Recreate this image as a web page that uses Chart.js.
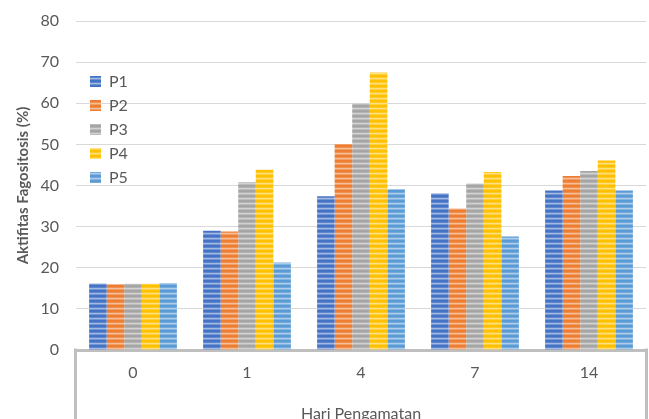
<!DOCTYPE html>
<html>
<head>
<meta charset="utf-8">
<script src="https://cdn.jsdelivr.net/npm/chart.js@4.4.1/dist/chart.umd.min.js"></script>
<style>
  html, body { margin: 0; padding: 0; background: #ffffff; overflow: hidden; }
  #wrap { width: 649px; height: 430px; position: relative; }
</style>
</head>
<body>
<div id="wrap"><canvas id="c"></canvas></div>
<script>
// Observation days and phagocytic activity (%) per group
const days = ['0', '1', '4', '7', '14'];
const seriesNames = ['P1', 'P2', 'P3', 'P4', 'P5'];
const p1 = [16.2, 29.0, 37.4, 38.1, 38.8];
const p2 = [16.0, 28.8, 50.1, 34.4, 42.3];
const p3 = [16.1, 40.8, 60.0, 40.5, 43.5];
const p4 = [16.1, 43.8, 67.5, 43.3, 46.1];
const p5 = [16.3, 21.3, 39.1, 27.6, 38.8];
const yTicks = [0, 10, 20, 30, 40, 50, 60, 70, 80];
const seriesColors = ['#4472c4', '#ed7d31', '#a5a5a5', '#ffc000', '#5b9bd5'];

// Lighten a hex colour toward white by t (0..1)
function tint(hex, t) {
  const n = parseInt(hex.slice(1), 16);
  const r = (n >> 16) & 255, g = (n >> 8) & 255, b = n & 255;
  const f = c => Math.round(c + (255 - c) * t);
  return 'rgb(' + f(r) + ',' + f(g) + ',' + f(b) + ')';
}

// Horizontal striped fill used for bars and legend boxes
function stripes(hex) {
  const c = document.createElement('canvas');
  c.width = 4; c.height = 5;
  const x = c.getContext('2d');
  const rows = [0, 0, 0.15, 0.5, 0.25];
  rows.forEach((t, i) => {
    x.fillStyle = t ? tint(hex, t) : hex;
    x.fillRect(0, i, 4, 1);
  });
  return x.createPattern(c, 'repeat');
}

const values = [p1, p2, p3, p4, p5];
const datasets = seriesNames.map((name, i) => ({
  label: name,
  data: values[i],
  backgroundColor: stripes(seriesColors[i]),
  borderWidth: 0,
  categoryPercentage: 0.77,
  barPercentage: 1.0
}));

// Frame lines below the plot around the category axis
const axisFrame = {
  id: 'axisFrame',
  afterDraw(chart) {
    const { ctx, chartArea: { left, right, bottom } } = chart;
    ctx.save();
    ctx.strokeStyle = '#bfbfbf';
    ctx.lineWidth = 3;
    ctx.beginPath();
    ctx.moveTo(left - 0.5, bottom - 1.5);
    ctx.lineTo(left - 0.5, chart.height);
    ctx.moveTo(right + 0.5, bottom - 1.5);
    ctx.lineTo(right + 0.5, chart.height);
    ctx.stroke();
    ctx.restore();
  }
};

// Place the in-plot legend part way down the left side of the plot
const legendOffset = {
  id: 'legendOffset',
  afterLayout(chart) {
    const l = chart.legend;
    if (!l) return;
    l.left += 6;
    l.top += 65.5;
  }
};

const font = 'Lato';
const textColor = '#595959';

new Chart(document.getElementById('c'), {
  type: 'bar',
  data: { labels: days, datasets: datasets },
  plugins: [axisFrame, legendOffset],
  options: {
    responsive: true,
    maintainAspectRatio: false,
    animation: false,
    layout: { padding: { top: 21, right: 3, left: 0, bottom: 0 } },
    plugins: {
      tooltip: { enabled: false },
      legend: {
        position: 'chartArea',
        align: 'start',
        labels: {
          boxWidth: 11,
          boxHeight: 11,
          padding: 8,
          color: textColor,
          font: { family: font, size: 16 }
        }
      }
    },
    scales: {
      x: {
        grid: { display: false, drawTicks: false },
        border: { display: true, color: '#bfbfbf', width: 3 },
        ticks: { padding: 13, color: textColor, font: { family: font, size: 16 } },
        title: {
          display: true,
          text: 'Hari Pengamatan',
          color: textColor,
          font: { family: font, size: 16 },
          padding: { top: 0, bottom: 7 }
        },
        afterFit(s) { s.height = 80; }
      },
      y: {
        min: 0,
        max: 80,
        afterBuildTicks(s) { s.ticks = yTicks.map(v => ({ value: v })); },
        ticks: { padding: 0, color: textColor, font: { family: font, size: 16 } },
        grid: {
          color: '#d9d9d9',
          lineWidth: 1,
          drawTicks: true,
          tickLength: 17,
          tickColor: 'rgba(0,0,0,0)',
          z: -1
        },
        border: { display: false },
        title: {
          display: true,
          text: 'Aktifitas Fagositosis (%)',
          color: textColor,
          font: { family: font, size: 15, weight: 'bold' },
          padding: { top: 14, bottom: 0 }
        },
        afterFit(s) { s.width = 76; }
      }
    }
  }
});
</script>
</body>
</html>
